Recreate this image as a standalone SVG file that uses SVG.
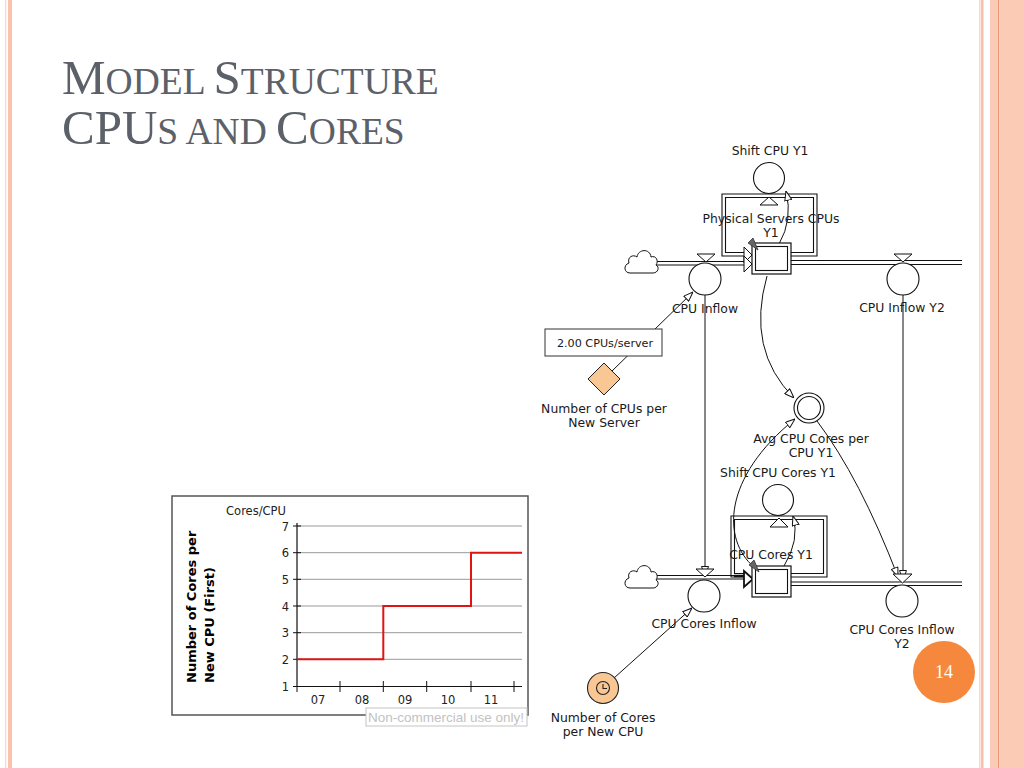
<svg xmlns="http://www.w3.org/2000/svg" width="1024" height="768" viewBox="0 0 1024 768">
<defs>
<style>
.lbl{font-family:"DejaVu Sans",Verdana,sans-serif;font-size:12.4px;fill:#1a1a1a;text-anchor:middle}
.ttl{font-family:"Liberation Serif","Times New Roman",serif;fill:#5c6169}
.big{font-size:49px}
.sm{font-size:37.5px}
.ln{fill:none;stroke:#111;stroke-width:1}
.pipe{fill:none;stroke:#111;stroke-width:1.1}
.ax{font-family:"DejaVu Sans",Verdana,sans-serif;font-size:11.5px;fill:#222}
.grid{stroke:#999;stroke-width:1}
.ytl{font-family:"DejaVu Sans",Verdana,sans-serif;font-size:13px;font-weight:bold;fill:#000}
</style>
<marker id="ah" viewBox="0 0 10 8" refX="10" refY="4" markerWidth="10" markerHeight="8" markerUnits="userSpaceOnUse" orient="auto"><path d="M0.5,0.5 L10,4 L0.5,7.5 z" fill="#fff" stroke="#111" stroke-width="1"/></marker>
<path id="cloud" d="M5,26 C-1,26 -2,18 4,16 C2,10 8,7 12,10 C13,2 25,1 26,10 C31,8 34,14 31,18 C35,20 33,26 28,26 Z" fill="#fff" stroke="#111" stroke-width="1"/>
</defs>
<rect width="1024" height="768" fill="#fff"/>
<g id="border">
<rect x="5" y="0" width="1.3" height="768" fill="#fbd5c6"/>
<rect x="8" y="0" width="4" height="768" fill="#f9c3ad"/>
<rect x="979" y="0" width="1.5" height="768" fill="#fbd5c6"/>
<rect x="981" y="0" width="2.5" height="768" fill="#f8bfa8"/>
<rect x="990" y="0" width="8" height="768" fill="#fbcbb7"/>
<rect x="998" y="0" width="1.3" height="768" fill="#e99a78"/>
<rect x="999.3" y="0" width="25" height="768" fill="#fccbb6"/>
</g>
<g id="title" class="ttl">
<text x="62" y="94"><tspan class="big">M</tspan><tspan class="sm">ODEL </tspan><tspan class="big">S</tspan><tspan class="sm">TRUCTURE</tspan></text>
<text x="62" y="144"><tspan class="big">CPU</tspan><tspan class="sm">S AND </tspan><tspan class="big">C</tspan><tspan class="sm">ORES</tspan></text>
</g>
<g id="connectors">
<line class="pipe" x1="656" y1="261.5" x2="745" y2="261.5"/>
<line class="pipe" x1="656" y1="265" x2="745" y2="265"/>
<line class="pipe" x1="791" y1="260.5" x2="962" y2="260.5"/>
<line class="pipe" x1="791" y1="264.5" x2="962" y2="264.5"/>
<path class="pipe" d="M745,256 H722 V194 H817 V256 H791"/>
<path class="pipe" d="M745,252.5 H725.5 V197.5 H813.5 V252.5 H791"/>
<line class="pipe" x1="656" y1="575.5" x2="745" y2="575.5"/>
<line class="pipe" x1="656" y1="579" x2="745" y2="579"/>
<line class="pipe" x1="791" y1="582" x2="962" y2="582"/>
<line class="pipe" x1="791" y1="585.5" x2="962" y2="585.5"/>
<path class="pipe" d="M745,577 H731 V516 H827 V577 H791"/>
<path class="pipe" d="M745,573.5 H734.5 V519.5 H823.5 V573.5 H791"/>
<line x1="734" y1="576" x2="745" y2="576" stroke="#111" stroke-width="2.5"/>
<line class="ln" x1="612" y1="371" x2="693" y2="292" marker-end="url(#ah)"/>
<line class="ln" x1="614" y1="678" x2="692" y2="608" marker-end="url(#ah)"/>
<path class="ln" d="M779,244 Q793,220 786,191" marker-end="url(#ah)"/>
<path class="ln" d="M767,276 Q746,350 794,398" marker-end="url(#ah)"/>
<path class="ln" d="M754,567 C722,540 722,478 795,419" marker-end="url(#ah)"/>
<path class="ln" d="M817,421 Q860,478 898,577" marker-end="url(#ah)"/>
<path class="ln" d="M784,566 Q800,540 793,516" marker-end="url(#ah)"/>
<line class="ln" x1="705" y1="295" x2="705" y2="576" marker-end="url(#ah)"/>
<line class="ln" x1="903" y1="295" x2="903" y2="580" marker-end="url(#ah)"/>
</g>
<g id="physical-servers-cpus">
<polygon points="744,247 752,255 744,263" fill="#fff" stroke="#111" stroke-width="1"/>
<polygon points="744,256 752,264 744,272" fill="#fff" stroke="#111" stroke-width="1"/>
<rect x="752" y="243" width="39" height="31" fill="#fff" stroke="#111" stroke-width="1.2"/>
<rect x="755.5" y="246.5" width="32" height="24" fill="#fff" stroke="#111" stroke-width="1.1"/>
<polygon points="748,243 753,238 758,250" fill="#666" stroke="#333" stroke-width="0.8"/>
<text class="lbl" x="771" y="223">Physical Servers CPUs</text>
<text class="lbl" x="771" y="237">Y1</text>
</g>
<g id="cloud-top"><use href="#cloud" x="625" y="247"/></g>
<g id="shift-cpu-y1">
<circle cx="769" cy="178" r="15.5" fill="#fff" stroke="#111" stroke-width="1.1"/>
<polygon points="769,197 760,205 778,205" fill="#fff" stroke="#111" stroke-width="1"/>
<text class="lbl" x="770" y="155">Shift CPU Y1</text>
</g>
<g id="cpu-inflow">
<polygon points="697,254 715,254 706,262" fill="#fff" stroke="#111" stroke-width="1"/>
<circle cx="705" cy="279" r="16" fill="#fff" stroke="#111" stroke-width="1.1"/>
<text class="lbl" x="705" y="313">CPU Inflow</text>
</g>
<g id="cpu-inflow-y2">
<polygon points="894,254 912,254 903,262" fill="#fff" stroke="#111" stroke-width="1"/>
<circle cx="903" cy="279" r="16" fill="#fff" stroke="#111" stroke-width="1.1"/>
<text class="lbl" x="902" y="312">CPU Inflow Y2</text>
</g>
<g id="number-of-cpus-per-new-server">
<rect x="545" y="329" width="117" height="27" fill="#fff" stroke="#333" stroke-width="1"/>
<text class="lbl" x="605" y="347" style="font-size:11.2px">2.00 CPUs/server</text>
<polygon points="604,363 620,379 604,395 588,379" fill="#f8c794" stroke="#222" stroke-width="1"/>
<text class="lbl" x="604" y="413">Number of CPUs per</text>
<text class="lbl" x="604" y="427">New Server</text>
</g>
<g id="avg-cpu-cores-per-cpu-y1">
<circle cx="809" cy="408" r="15" fill="#fff" stroke="#111" stroke-width="1.1"/>
<circle cx="809" cy="408" r="11.5" fill="#fff" stroke="#111" stroke-width="1.1"/>
<text class="lbl" x="811" y="443">Avg CPU Cores per</text>
<text class="lbl" x="811" y="457">CPU Y1</text>
</g>
<g id="shift-cpu-cores-y1">
<circle cx="778" cy="500" r="15.5" fill="#fff" stroke="#111" stroke-width="1.1"/>
<polygon points="779,518 770,527 788,527" fill="#fff" stroke="#111" stroke-width="1"/>
<text class="lbl" x="778" y="477">Shift CPU Cores Y1</text>
</g>
<g id="cpu-cores-y1">
<polygon points="744,571 753,579 744,587" fill="#fff" stroke="#111" stroke-width="1.8"/>
<rect x="752" y="566" width="39" height="31" fill="#fff" stroke="#111" stroke-width="1.2"/>
<rect x="755.5" y="569.5" width="32" height="24" fill="#fff" stroke="#111" stroke-width="1.1"/>
<polygon points="749,565 754,560 759,572" fill="#666" stroke="#333" stroke-width="0.8"/>
<text class="lbl" x="771" y="559">CPU Cores Y1</text>
</g>
<g id="cloud-bottom"><use href="#cloud" x="625" y="562"/></g>
<g id="cpu-cores-inflow">
<polygon points="696,569 714,569 705,577" fill="#fff" stroke="#111" stroke-width="1"/>
<circle cx="704" cy="596" r="16" fill="#fff" stroke="#111" stroke-width="1.1"/>
<text class="lbl" x="704" y="628">CPU Cores Inflow</text>
</g>
<g id="cpu-cores-inflow-y2">
<polygon points="893,574 912,574 902.5,583" fill="#fff" stroke="#111" stroke-width="1"/>
<circle cx="902" cy="601" r="16" fill="#fff" stroke="#111" stroke-width="1.1"/>
<text class="lbl" x="902" y="634">CPU Cores Inflow</text>
<text class="lbl" x="902" y="648">Y2</text>
</g>
<g id="number-of-cores-per-new-cpu">
<circle cx="603" cy="688" r="15.5" fill="#f8c794" stroke="#222" stroke-width="1.1"/>
<circle cx="603" cy="688" r="6.5" fill="none" stroke="#222" stroke-width="1.1"/>
<path d="M603,684 V688.5 H607" fill="none" stroke="#222" stroke-width="1.1"/>
<text class="lbl" x="603" y="722">Number of Cores</text>
<text class="lbl" x="603" y="736">per New CPU</text>
</g>
<g id="chart">
<rect x="172" y="496" width="356" height="219" fill="#fff" stroke="#555" stroke-width="1.5"/>
<text class="ax" x="256" y="515" text-anchor="middle">Cores/CPU</text>
<g class="grid">
<line x1="297" y1="526" x2="522" y2="526"/>
<line x1="297" y1="552.7" x2="522" y2="552.7"/>
<line x1="297" y1="579.3" x2="522" y2="579.3"/>
<line x1="297" y1="606" x2="522" y2="606"/>
<line x1="297" y1="632.7" x2="522" y2="632.7"/>
<line x1="297" y1="659.3" x2="522" y2="659.3"/>
</g>
<path d="M297,523 V686.5 H522" fill="none" stroke="#111" stroke-width="1.2"/>
<path d="M293,526 H301 M293,552.7 H301 M293,579.3 H301 M293,606 H301 M293,632.7 H301 M293,659.3 H301 M293,686.5 H297 M297,686.5 V692 M340,681 V692 M383.3,681 V692 M426.7,681 V692 M471,681 V692 M514,681 V692" stroke="#111" stroke-width="1"/>
<g class="ax" text-anchor="end">
<text x="289" y="530.5">7</text><text x="289" y="557">6</text><text x="289" y="583.5">5</text>
<text x="289" y="610.5">4</text><text x="289" y="637">3</text><text x="289" y="663.5">2</text><text x="289" y="691">1</text>
</g>
<g class="ax" text-anchor="middle">
<text x="318" y="704">07</text><text x="362" y="704">08</text><text x="405" y="704">09</text><text x="448" y="704">10</text><text x="491" y="704">11</text>
</g>
<path d="M297,659.3 H383.3 V606 H471 V552.7 H522" fill="none" stroke="#e01414" stroke-width="2"/>
<text class="ytl" transform="translate(196,683) rotate(-90)">Number of Cores per</text>
<text class="ytl" transform="translate(214,683) rotate(-90)">New CPU (First)</text>
<rect x="366" y="708" width="161" height="18" fill="#fff" stroke="#c4c4c4" stroke-width="1"/>
<text x="446" y="722" text-anchor="middle" style="font-family:'Liberation Sans',Arial,sans-serif;font-size:13.5px;fill:#c2c2c2">Non-commercial use only!</text>
</g>
<g id="page-number">
<circle cx="944" cy="672" r="31" fill="#f5883c"/>
<text x="944" y="678" text-anchor="middle" style="font-family:'Liberation Serif','Times New Roman',serif;font-size:18px;fill:#fff">14</text>
</g>
</svg>
